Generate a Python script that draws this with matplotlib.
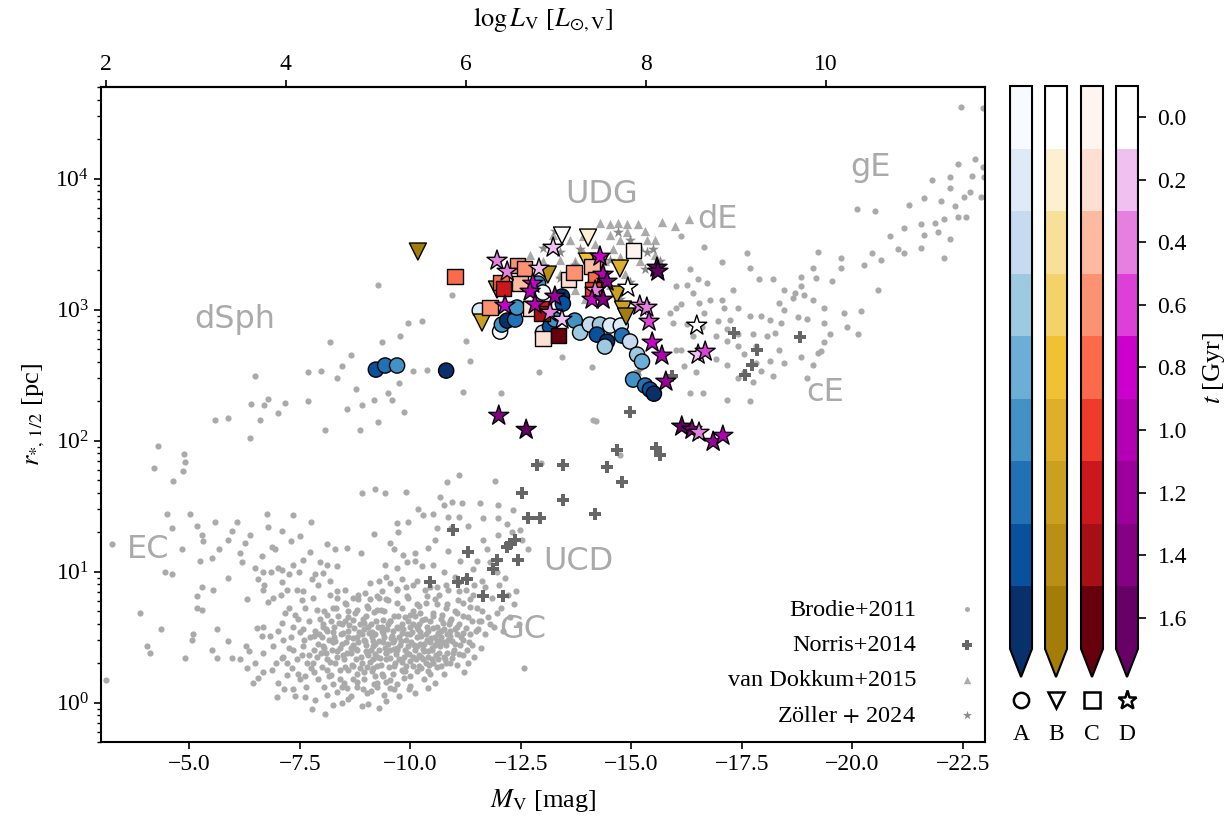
import numpy as np
import matplotlib
matplotlib.use("Agg")
import matplotlib.pyplot as plt
from matplotlib.colors import ListedColormap, BoundaryNorm
from matplotlib.cm import ScalarMappable
from matplotlib.lines import Line2D

# === DATA ===
# model A (circles): M_V, r_half [pc], t [Gyr]
circ_mv = [-9.22, -9.43, -9.70, -10.81, -11.57, -12.03, -12.07, -12.19, -12.37, -12.41,
           -12.89, -13.00, -13.43, -13.45, -13.00, -13.16, -13.27, -13.72, -13.84, -14.06,
           -14.29, -14.22, -14.45, -14.52, -14.76, -14.79, -14.97, -15.13, -15.24, -15.04,
           -15.31, -15.42, -15.51, -14.40]
circ_r = [348, 374, 374, 342, 983, 679, 768, 824, 839, 1036,
          1578, 1349, 1257, 1111, 667, 741, 839, 824, 667, 768,
          768, 644, 570, 755, 755, 633, 570, 453, 401, 292,
          263, 245, 228, 522]
circ_t = [1.4, 1.2, 1.0, 1.6, 0.2, 0.0, 1.0, 1.6, 1.2, 1.0,
          1.0, 0.0, 1.6, 1.4, 0.4, 1.4, 1.0, 1.0, 0.6, 0.4,
          0.6, 1.4, 1.6, 0.2, 0.2, 1.2, 0.4, 0.6, 0.8, 1.0,
          1.2, 1.4, 1.6, 0.6]

# model B (down triangles)
tri_mv = [-10.17, -11.62, -11.96, -13.11, -13.43, -14.02, -14.00, -14.74, -14.67, -14.81, -14.88, -14.29]
tri_r = [2773, 796, 1422, 1850, 3673, 3545, 2324, 2056, 1302, 1000, 885, 2285]
tri_t = [1.6, 1.2, 1.4, 1.4, 0.0, 0.2, 0.8, 1.0, 1.2, 1.2, 1.6, 1.0]

# model C (squares)
sq_mv = [-11.01, -12.05, -12.10, -11.80, -12.43, -12.59, -12.48, -12.73, -13.00, -12.98,
         -13.00, -13.36, -13.57, -13.70, -14.11, -14.18, -14.13, -15.04]
sq_r = [1786, 1607, 1446, 1036, 2168, 2056, 1578, 1018, 1018, 932,
        601, 633, 1694, 1916, 2130, 1694, 1422, 2820]
sq_t = [0.8, 0.8, 1.2, 0.6, 0.6, 0.6, 0.4, 0.2, 1.2, 1.4,
        0.2, 1.6, 0.2, 0.6, 0.4, 0.8, 1.0, 0.0]

# model D (stars)
star_mv = [-11.96, -12.19, -13.23, -12.91, -12.77, -12.71, -12.82, -12.14, -13.16, -13.43,
           -13.27, -14.29, -14.36, -14.45, -14.18, -14.11, -14.36, -14.92, -15.58, -15.60,
           -15.19, -15.35, -15.40, -15.47, -15.69, -15.78, -16.48, -16.51, -16.67, -12.00,
           -12.62, -16.14, -16.37, -16.53, -16.85, -17.07]
star_r = [2366, 1950, 2974, 2056, 1578, 1372, 1092, 1073, 948, 839,
          1257, 2540, 1850, 1636, 1396, 1192, 1192, 1472, 2093, 1950,
          1073, 1036, 810, 560, 446, 282, 755, 453, 478, 155,
          121, 128, 121, 115, 98, 109]
star_t = [0.4, 0.4, 0.2, 0.2, 0.8, 1.0, 1.0, 0.8, 0.4, 0.2,
          1.2, 0.8, 1.0, 1.4, 0.4, 0.8, 1.4, 0.0, 1.6, 1.6,
          0.4, 0.4, 0.6, 0.8, 1.0, 1.2, 0.0, 0.2, 0.6, 1.4,
          1.6, 1.6, 1.4, 0.4, 1.2, 1.0]

# Brodie+2011: (M_V, log10 r_half)
brodie_gc = [
    (-4.49, 1.44), (-5.02, 1.44), (-6.75, 1.44), (-7.34, 1.43), (-7.75, 1.38), (-5.58, 1.38),
    (-6.07, 1.38), (-4.60, 1.33), (-5.18, 1.35), (-5.97, 1.31), (-6.77, 1.34), (-7.09, 1.31),
    (-6.37, 1.28), (-5.28, 1.28), (-5.32, 1.23), (-5.88, 1.24), (-6.27, 1.22), (-7.30, 1.23),
    (-7.50, 1.27), (-8.11, 1.21), (-8.30, 1.17), (-8.57, 1.18), (-8.88, 1.14), (-9.18, 1.29),
    (-9.69, 1.37), (-9.95, 1.38), (-10.18, 1.48), (-10.29, 1.43), (-10.52, 1.44), (-10.75, 1.51),
    (-10.94, 1.53), (-11.16, 1.52), (-11.58, 1.52), (-11.99, 1.51), (-12.33, 1.47), (-10.86, 1.42),
    (-11.11, 1.42), (-11.31, 1.35), (-11.65, 1.41), (-11.99, 1.41), (-12.18, 1.36), (-12.48, 1.32),
    (-10.60, 1.33), (-10.91, 1.33), (-9.73, 1.30), (-9.54, 1.22), (-9.62, 1.17), (-9.84, 1.13),
    (-10.11, 1.14), (-10.41, 1.18), (-10.56, 1.24), (-10.86, 1.16), (-11.12, 1.08), (-11.65, 1.24),
    (-11.99, 1.28), (-12.29, 1.30), (-12.52, 1.24), (-12.67, 1.17), (-11.73, 1.17), (-11.50, 1.08),
    (-11.80, 1.07), (-11.42, 1.02), (-11.61, 0.93), (-11.01, 0.96), (-10.75, 1.00), (-10.52, 1.05),
    (-10.26, 1.04), (-10.11, 1.08), (-9.92, 1.07), (-9.69, 1.03), (-9.46, 0.96), (-9.28, 0.93),
    (-9.80, 0.94), (-10.14, 0.93), (-10.33, 0.86), (-10.60, 0.88), (-10.86, 0.86), (-11.09, 0.85),
    (-11.27, 0.86), (-11.35, 0.79), (-11.42, 0.82), (-11.20, 0.76), (-11.05, 0.68), (-10.82, 0.75),
    (-10.56, 0.79), (-10.37, 0.81), (-10.14, 0.75), (-9.92, 0.81), (-9.69, 0.76), (-9.46, 0.79),
    (-9.24, 0.71), (-9.01, 0.74), (-8.79, 0.71), (-8.52, 0.76), (-8.32, 0.72), (-8.11, 0.67),
    (-7.88, 0.71), (-7.62, 0.72), (-7.39, 0.67), (-7.17, 0.68), (-7.09, 0.61), (-7.35, 0.58),
    (-7.58, 0.56), (-7.81, 0.51), (-8.03, 0.58), (-8.26, 0.54), (-8.52, 0.62), (-8.71, 0.63),
    (-8.94, 0.61), (-9.13, 0.54), (-9.35, 0.58), (-9.54, 0.62), (-9.73, 0.66), (-9.99, 0.67),
    (-10.22, 0.68), (-10.52, 0.66), (-10.71, 0.67), (-10.90, 0.62), (-11.05, 0.58), (-11.20, 0.53),
    (-10.82, 0.52), (-10.60, 0.47), (-10.37, 0.48), (-10.22, 0.54), (-9.99, 0.58), (-9.80, 0.53),
    (-9.62, 0.48), (-9.39, 0.46), (-9.16, 0.43), (-8.94, 0.48), (-8.71, 0.49), (-8.48, 0.53),
    (-8.26, 0.46), (-8.03, 0.43), (-7.81, 0.40), (-7.58, 0.43), (-7.35, 0.40), (-7.13, 0.35),
    (-7.43, 0.33), (-7.66, 0.30), (-7.88, 0.35), (-8.11, 0.33), (-8.33, 0.35), (-8.56, 0.38),
    (-8.79, 0.40), (-9.01, 0.38), (-9.24, 0.35), (-9.46, 0.38), (-9.69, 0.40), (-9.92, 0.38),
    (-10.14, 0.43), (-10.41, 0.39), (-10.67, 0.46), (-10.90, 0.51), (-11.20, 0.48), (-11.35, 0.52),
    (-11.09, 0.37), (-11.54, 0.56), (-11.69, 0.52), (-12.56, 0.26), (-11.21, 0.23), (-10.41, 0.11),
    (-9.96, 0.10), (-9.54, 0.11), (-9.28, -0.04), (-8.90, -0.03), (-8.60, 0.03), (-8.11, 0.06),
    (-7.77, -0.05), (-8.07, -0.09), (-7.62, 0.04), (-7.35, 0.10), (-6.99, 0.04), (-7.01, 0.15),
    (-7.20, 0.21), (-7.50, 0.18), (-7.81, 0.23), (-8.11, 0.25), (-8.41, 0.18), (-8.71, 0.28),
    (-8.94, 0.23), (-9.16, 0.26), (-9.39, 0.20), (-9.62, 0.28), (-9.84, 0.24), (-10.07, 0.28),
    (-10.29, 0.33), (-10.52, 0.30), (-10.75, 0.35), (-10.97, 0.38), (-8.26, 0.14), (-8.56, 0.11),
    (-9.01, 0.07), (-9.24, 0.15), (-9.46, 0.16), (-8.79, 0.16), (-7.20, 0.30), (-7.32, 0.26),
    (-7.09, 0.34), (-6.86, 0.25), (-6.67, 0.23), (-6.45, 0.15), (-6.56, 0.19), (-6.30, 0.26),
    (-6.49, 0.30), (-6.67, 0.38), (-6.28, 0.43), (-6.34, 0.39), (-6.15, 0.33), (-5.96, 0.34),
    (-5.62, 0.34), (-5.51, 0.40), (-5.88, 0.47), (-5.62, 0.56), (-5.09, 0.52), (-5.05, 0.48),
    (-4.90, 0.34), (-4.37, 0.56), (-4.04, 0.43), (-4.11, 0.38), (-3.89, 0.68), (-3.24, 1.21),
    (-3.11, 0.17), (-4.83, 1.17), (-4.45, 1.00), (-4.60, 0.98), (-5.24, 1.08), (-5.51, 1.10),
    (-5.68, 1.17), (-5.88, 0.95), (-6.15, 1.14), (-6.18, 1.07), (-6.49, 1.03), (-6.65, 1.12),
    (-6.86, 1.19), (-6.94, 1.17), (-6.67, 1.00), (-6.84, 1.00), (-7.01, 1.03), (-7.09, 1.01),
    (-7.26, 0.98), (-7.35, 1.05), (-7.58, 1.09), (-7.73, 1.15), (-7.96, 1.07), (-8.11, 1.05),
    (-8.03, 0.99), (-8.33, 1.04), (-8.52, 0.86), (-8.82, 0.82), (-8.97, 0.84), (-9.09, 0.91),
    (-9.43, 1.05), (-9.54, 0.91), (-9.35, 0.85), (-9.24, 0.81), (-9.09, 0.79), (-9.69, 0.87),
    (-8.82, 0.79), (-8.60, 0.70), (-8.35, 0.80), (-8.18, 0.82), (-7.92, 0.90), (-7.77, 0.94),
    (-7.58, 0.85), (-7.43, 0.86), (-7.20, 0.86), (-7.07, 0.82), (-6.90, 0.80), (-6.79, 0.77),
    (-6.67, 0.86), (-6.70, 0.90), (-6.56, 0.94), (-6.30, 0.79), (-6.52, 0.57), (-6.67, 0.58),
    (-6.82, 0.51), (-6.64, 0.51), (-7.13, 0.48), (-6.90, 0.43), (-5.17, 0.81), (-5.28, 0.88),
    (-5.54, 0.86), (-5.17, 0.72), (-5.28, 0.71), (-7.09, 0.92), (-7.49, 1.00), (-7.84, 0.98),
    (-8.18, 0.93),
]
brodie_core = [
    (-8.00, 0.50), (-8.20, 0.62), (-8.40, 0.42), (-8.60, 0.55), (-8.80, 0.50), (-9.00, 0.44),
    (-9.10, 0.60), (-9.20, 0.52), (-9.30, 0.40), (-9.40, 0.50), (-9.50, 0.45), (-9.60, 0.55),
    (-9.70, 0.42), (-9.80, 0.60), (-9.90, 0.48), (-10.00, 0.52), (-10.10, 0.40), (-10.20, 0.60),
    (-10.30, 0.45), (-10.40, 0.55), (-10.50, 0.42), (-10.60, 0.58), (-10.70, 0.50), (-10.80, 0.44),
    (-8.10, 0.38), (-8.30, 0.47), (-8.50, 0.33), (-8.70, 0.44), (-8.90, 0.30), (-9.05, 0.36),
    (-9.15, 0.47), (-9.25, 0.28), (-9.35, 0.55), (-9.45, 0.33), (-9.55, 0.40), (-9.65, 0.30),
    (-9.75, 0.50), (-9.85, 0.35), (-9.95, 0.43), (-10.05, 0.60), (-10.15, 0.50), (-10.25, 0.35),
    (-10.35, 0.52), (-10.45, 0.62), (-10.55, 0.50), (-10.65, 0.38), (-10.75, 0.56), (-10.90, 0.55),
    (-11.00, 0.45), (-11.10, 0.60), (-7.90, 0.45), (-7.70, 0.36), (-8.00, 0.27), (-8.40, 0.25),
    (-8.80, 0.22), (-9.20, 0.20), (-9.60, 0.22), (-10.00, 0.20), (-10.40, 0.24), (-10.80, 0.30),
    (-8.60, 0.65), (-9.00, 0.66), (-9.40, 0.70), (-9.80, 0.72), (-10.20, 0.74), (-10.60, 0.75),
    (-11.00, 0.70), (-11.30, 0.65), (-11.50, 0.72), (-11.60, 0.62), (-8.25, 0.72), (-8.45, 0.60),
    (-8.65, 0.38), (-8.95, 0.56), (-9.15, 0.33), (-9.55, 0.62), (-9.90, 0.28), (-10.10, 0.66),
    (-10.35, 0.30), (-10.70, 0.64),
    (-7.70, 0.62), (-7.85, 0.55), (-7.95, 0.64), (-8.05, 0.70), (-8.15, 0.48), (-8.22, 0.40),
    (-8.28, 0.58), (-8.36, 0.66), (-8.42, 0.52), (-8.48, 0.36), (-8.55, 0.46), (-8.62, 0.59),
    (-8.68, 0.29), (-8.74, 0.68), (-8.78, 0.41), (-8.84, 0.54), (-8.88, 0.35), (-8.93, 0.64),
    (-8.97, 0.47), (-9.02, 0.27), (-9.07, 0.53), (-9.11, 0.40), (-9.18, 0.69), (-9.21, 0.45),
    (-9.27, 0.58), (-9.31, 0.34), (-9.37, 0.63), (-9.42, 0.42), (-9.47, 0.56), (-9.52, 0.27),
    (-9.57, 0.49), (-9.63, 0.66), (-9.67, 0.37), (-9.72, 0.57), (-9.77, 0.44), (-9.82, 0.31),
    (-9.87, 0.65), (-9.92, 0.52), (-9.97, 0.37), (-10.02, 0.46), (-10.07, 0.70), (-10.12, 0.33),
    (-10.17, 0.56), (-10.22, 0.45), (-10.27, 0.63), (-10.32, 0.39), (-10.37, 0.58), (-10.42, 0.29),
    (-10.47, 0.49), (-10.52, 0.68), (-10.57, 0.36), (-10.62, 0.53), (-10.68, 0.43), (-10.73, 0.61),
    (-10.78, 0.33), (-10.85, 0.48), (-10.92, 0.64), (-10.98, 0.40), (-11.05, 0.52), (-11.12, 0.44),
    (-11.18, 0.66), (-11.25, 0.57), (-11.32, 0.46), (-11.40, 0.62), (-11.48, 0.55), (-7.60, 0.48),
    (-7.75, 0.26), (-7.90, 0.18), (-8.05, 0.12), (-8.20, 0.21), (-8.35, 0.08), (-8.50, 0.15),
    (-8.65, 0.05), (-8.80, 0.12), (-8.95, 0.18), (-9.10, 0.09), (-9.25, 0.12), (-9.40, 0.06),
    (-9.55, 0.17), (-9.70, 0.14), (-9.85, 0.19), (-10.00, 0.13), (-10.15, 0.24), (-10.30, 0.18),
    (-10.45, 0.22), (-10.60, 0.27), (-10.75, 0.22), (-10.90, 0.30), (-11.05, 0.29), (-11.20, 0.36),
    (-7.55, 0.36), (-7.65, 0.12), (-7.85, 0.02), (-8.25, -0.02), (-8.45, 0.00), (-9.05, -0.01),
    (-9.45, 0.01), (-9.75, 0.05), (-10.10, 0.07), (-10.55, 0.15), (-8.10, 0.56), (-8.30, 0.30),
    (-8.58, 0.25), (-8.86, 0.60), (-9.14, 0.24), (-9.33, 0.71), (-9.61, 0.46), (-9.89, 0.24),
    (-10.19, 0.28), (-10.49, 0.40), (-10.81, 0.72), (-11.08, 0.78), (-11.36, 0.73), (-11.62, 0.70),
    (-11.80, 0.60), (-11.95, 0.68), (-12.10, 0.55), (-11.85, 0.80), (-11.70, 0.88), (-12.00, 0.90),
    (-12.20, 0.82), (-11.45, 0.90), (-11.25, 0.95), (-12.35, 0.75), (-9.05, 0.72), (-8.55, 0.75),
    (-8.35, 0.85), (-7.80, 0.80), (-7.55, 0.78), (-7.30, 0.50), (-7.25, 0.72), (-7.45, 0.64),
    (-9.50, 0.78), (-9.95, 0.80), (-10.35, 0.76), (-10.65, 0.82), (-10.45, 0.88), (-10.05, 0.90),
    (-9.70, 0.86),
    (-8.05, 0.42), (-8.12, 0.55), (-8.18, 0.31), (-8.27, 0.50), (-8.33, 0.39), (-8.39, 0.61),
    (-8.46, 0.45), (-8.53, 0.27), (-8.59, 0.50), (-8.66, 0.42), (-8.72, 0.57), (-8.76, 0.33),
    (-8.82, 0.46), (-8.86, 0.26), (-8.91, 0.52), (-8.99, 0.39), (-9.04, 0.58), (-9.08, 0.31),
    (-9.13, 0.50), (-9.19, 0.37), (-9.23, 0.62), (-9.29, 0.47), (-9.33, 0.29), (-9.39, 0.53),
    (-9.44, 0.38), (-9.49, 0.60), (-9.53, 0.34), (-9.59, 0.51), (-9.64, 0.41), (-9.69, 0.58),
    (-9.74, 0.33), (-9.79, 0.47), (-9.84, 0.56), (-9.88, 0.40), (-9.94, 0.62), (-9.99, 0.32),
    (-10.04, 0.54), (-10.09, 0.44), (-10.14, 0.58), (-10.19, 0.36), (-10.24, 0.51), (-10.29, 0.41),
    (-10.34, 0.64), (-10.39, 0.35), (-10.44, 0.46), (-10.51, 0.57), (-10.56, 0.44), (-10.63, 0.33),
    (-10.69, 0.55), (-10.76, 0.46), (-10.83, 0.38), (-10.88, 0.60), (-10.95, 0.47), (-11.02, 0.56),
    (-11.15, 0.50), (-11.28, 0.40), (-7.72, 0.50), (-7.80, 0.30), (-7.93, 0.52), (-7.98, 0.38),
    (-8.02, 0.60), (-8.15, 0.20), (-8.45, 0.12), (-8.70, 0.18), (-8.92, 0.10), (-9.18, 0.14),
    (-9.35, 0.22), (-9.62, 0.10), (-9.80, 0.25), (-10.05, 0.35), (-10.25, 0.26), (-10.50, 0.33),
    (-10.70, 0.28), (-10.95, 0.34), (-7.45, 0.22), (-7.62, 0.20), (-7.40, 0.05), (-7.15, 0.10),
    (-6.95, 0.30), (-7.00, 0.55), (-7.25, 0.42), (-7.50, 0.54), (-11.40, 0.44), (-11.55, 0.62),
    (-11.75, 0.65), (-11.90, 0.58), (-12.05, 0.72), (-12.25, 0.65), (-12.40, 0.85), (-12.15, 0.95),
    (-11.95, 1.00), (-12.45, 0.60), (-11.30, 0.30), (-11.45, 0.35), (-11.60, 0.42), (-8.70, 0.80),
    (-9.30, 0.80), (-9.90, 0.88), (-10.80, 0.90), (-11.10, 0.92),
]
brodie_dsph = [
    (-9.26, 3.19), (-10.95, 3.11), (-9.94, 2.90), (-10.26, 2.91), (-9.76, 2.80), (-9.36, 2.75),
    (-8.18, 2.75), (-11.27, 2.76), (-8.65, 2.65), (-8.46, 2.57), (-7.98, 2.53), (-7.69, 2.52),
    (-8.33, 2.48), (-10.06, 2.53), (-10.37, 2.54), (-6.49, 2.49), (-11.19, 2.37), (-11.36, 2.61),
    (-9.75, 2.44), (-8.76, 2.39), (-9.49, 2.36), (-9.17, 2.31), (-8.91, 2.27), (-8.56, 2.24),
    (-7.17, 2.29), (-6.78, 2.32), (-6.40, 2.28), (-6.68, 2.27), (-7.69, 2.30), (-7.00, 2.21),
    (-6.59, 2.16), (-5.88, 2.17), (-5.59, 2.16), (-8.07, 2.08), (-8.87, 2.08), (-9.26, 2.14),
    (-9.85, 2.22), (-9.58, 2.31), (-12.06, 2.36), (-12.91, 2.52), (-13.43, 2.64), (-14.10, 2.56),
    (-14.19, 2.15), (-12.95, 1.83), (-11.92, 1.69), (-11.10, 1.74), (-10.82, 1.68), (-6.38, 2.02),
    (-4.29, 1.96), (-4.89, 1.90), (-4.90, 1.84), (-4.20, 1.79), (-4.85, 1.77), (-4.63, 1.69),
    (-8.91, 1.60), (-9.19, 1.63), (-9.43, 1.60), (-9.91, 1.61), (-10.67, 1.57), (-14.13, 2.16),
    (-14.74, 1.89),
]
brodie_giant = [
    (-22.46, 4.55), (-22.95, 4.54), (-22.39, 4.11), (-22.77, 4.15), (-22.95, 4.09), (-21.81, 3.99),
    (-22.20, 4.01), (-22.71, 4.02), (-22.97, 4.01), (-21.29, 3.80), (-21.62, 3.85), (-22.00, 3.83),
    (-22.33, 3.79), (-22.52, 3.86), (-22.65, 3.90), (-22.90, 3.86), (-22.20, 3.93), (-22.58, 3.71),
    (-22.39, 3.71), (-20.52, 3.75), (-20.84, 3.56), (-21.16, 3.62), (-21.55, 3.65), (-21.87, 3.66),
    (-22.07, 3.69), (-21.61, 3.57), (-21.94, 3.59), (-22.20, 3.54), (-22.07, 3.39), (-21.55, 3.47),
    (-21.16, 3.43), (-21.04, 3.46), (-20.65, 3.38), (-20.45, 3.43), (-20.26, 3.34), (-19.75, 3.39),
    (-19.23, 3.44), (-19.10, 3.32), (-19.75, 3.32), (-19.55, 3.22), (-19.17, 3.24), (-18.84, 3.25),
    (-18.84, 3.18), (-18.46, 3.15), (-18.20, 3.23), (-17.88, 3.23), (-17.68, 3.32), (-18.71, 3.13),
    (-18.33, 3.05), (-18.91, 3.11), (-19.10, 3.07), (-19.36, 3.01), (-18.65, 3.09), (-18.46, 3.00),
    (-18.39, 2.90), (-18.78, 2.94), (-18.97, 2.93), (-19.36, 2.90), (-19.81, 2.97), (-20.20, 2.99),
    (-19.88, 2.87), (-20.58, 3.15), (-20.13, 2.81), (-19.49, 2.81), (-19.36, 2.75), (-19.23, 2.67),
    (-18.84, 2.64), (-19.10, 2.58), (-18.46, 2.59), (-18.13, 2.61), (-18.33, 2.69), (-18.07, 2.80),
    (-17.75, 2.81), (-17.42, 2.81), (-17.17, 2.85), (-16.97, 2.91), (-16.59, 2.87), (-16.26, 2.89),
    (-17.10, 3.01), (-16.78, 3.07), (-16.52, 3.05), (-16.13, 3.04), (-16.39, 3.13), (-16.26, 3.19),
    (-16.00, 3.18), (-16.50, 3.23), (-16.71, 3.20), (-17.29, 3.15), (-17.04, 3.07), (-17.42, 3.01),
    (-17.68, 2.95), (-17.94, 2.95), (-18.13, 2.92), (-17.23, 2.92), (-16.65, 2.97), (-16.00, 3.01),
    (-15.88, 2.97), (-15.94, 2.90), (-16.39, 2.80), (-16.91, 2.80), (-17.17, 2.76), (-17.42, 2.72),
    (-17.55, 2.66), (-17.81, 2.59), (-17.94, 2.53), (-18.20, 2.49), (-16.65, 2.69), (-16.91, 2.62),
    (-17.17, 2.58), (-17.55, 2.52), (-17.75, 2.45), (-17.17, 2.31), (-17.68, 2.30), (-16.62, 2.36),
    (-16.46, 2.52), (-16.20, 2.57), (-16.13, 2.69), (-16.00, 2.69), (-17.42, 2.48), (-16.65, 3.48),
    (-17.62, 3.43), (-17.04, 3.36), (-16.33, 3.31), (-16.13, 3.56), (-18.97, 2.48), (-19.29, 2.68),
    (-18.26, 2.82), (-17.81, 2.72), (-16.33, 2.36), (-20.10, 3.77),
]

# Norris+2014
norris_mv = [-10.44, -10.96, -11.08, -11.28, -11.30, -11.64, -12.10, -11.87, -11.96, -12.19,
             -12.25, -12.37, -12.43, -12.52, -12.66, -12.93, -13.45, -12.86, -13.45, -14.45,
             -14.67, -14.79, -14.97, -15.56, -15.65, -15.92, -17.32, -17.57, -17.73, -17.84,
             -18.81, -14.18]
norris_logr = [0.92, 1.32, 0.92, 0.94, 1.15, 0.81, 0.81, 1.02, 1.09, 1.19,
               1.21, 1.24, 1.09, 1.60, 1.41, 1.41, 1.55, 1.81, 1.81, 1.80,
               1.93, 1.68, 2.22, 1.94, 1.89, 2.49, 2.82, 2.50, 2.58, 2.69,
               2.79, 1.44]

# van Dokkum+2015
vdk_mv = [-14.29, -14.52, -14.70, -14.90, -15.15, -15.69, -15.99, -16.30, -13.61, -13.90,
          -14.52, -14.90, -15.31, -14.74, -15.35, -13.90, -14.29, -14.58, -15.04, -13.00,
          -13.38, -13.72, -14.06, -14.40, -14.74, -15.19, -13.38, -13.72, -14.06, -14.52,
          -14.86, -13.11, -13.50, -13.95, -14.29, -14.63, -12.48, -12.71, -13.23, -14.18,
          -15.19, -15.53, -15.53]
vdk_logr = [3.66, 3.65, 3.66, 3.65, 3.65, 3.67, 3.64, 3.69, 3.53, 3.56,
            3.57, 3.59, 3.60, 3.53, 3.53, 3.44, 3.44, 3.46, 3.44, 3.37,
            3.38, 3.37, 3.40, 3.37, 3.40, 3.37, 3.27, 3.15, 3.23, 3.19,
            3.27, 3.15, 3.08, 3.08, 3.11, 3.15, 3.31, 3.42, 3.57, 3.50,
            3.48, 3.42, 3.53]

# Zoller+2024
zol_mv = [-13.00, -13.38, -14.70, -14.97, -15.35, -15.49, -14.29, -14.52, -13.72, -14.06,
          -12.93, -14.74, -14.97, -15.15, -13.38, -13.84, -15.31, -15.65, -14.40, -13.27]
zol_logr = [3.47, 3.44, 3.59, 3.53, 3.44, 3.46, 3.31, 3.38, 3.34, 3.14,
            3.08, 3.08, 3.21, 2.53, 3.24, 3.46, 3.31, 3.37, 3.08, 3.60]

t_bounds = [-0.1, 0.1, 0.3, 0.5, 0.7, 0.9, 1.1, 1.3, 1.5, 1.7]
t_ticks = [0.0, 0.2, 0.4, 0.6, 0.8, 1.0, 1.2, 1.4, 1.6]

cols_a = ['#f7fbff', '#deebf7', '#c6dbef', '#9ecae1', '#6baed6', '#4292c6', '#2171b5', '#08519c', '#08306b']
cols_b = ['#ffffff', '#fdf0d0', '#f8e09a', '#f3d26a', '#f0c035', '#dfae2a', '#cba021', '#b98f16', '#a47d08']
cols_c = ['#fff5f0', '#fee0d2', '#fcbba1', '#fc9272', '#fb6a4a', '#ef3b2c', '#cb181d', '#a50f15', '#67000d']
cols_d = ['#ffffff', '#f0c0f0', '#e680e0', '#dc40d8', '#cc00cc', '#b400b4', '#9c009c', '#840084', '#660066']

region_labels = [("dSph", -6.03, 835), ("UDG", -14.33, 7540), ("dE", -16.96, 4880),
                 ("gE", -20.40, 12100), ("cE", -19.38, 232), ("EC", -4.06, 14.7),
                 ("UCD", -13.79, 11.9), ("GC", -12.55, 3.6)]

# === STYLE ===
plt.rcParams['font.family'] = 'serif'
plt.rcParams['font.serif'] = ['Liberation Serif', 'DejaVu Serif']
plt.rcParams['mathtext.fontset'] = 'stix'
plt.rcParams['axes.linewidth'] = 1.5
plt.rcParams['xtick.major.width'] = 1.2
plt.rcParams['ytick.major.width'] = 1.2
plt.rcParams['ytick.minor.width'] = 1.0

GREY = '#aaaaaa'

fig = plt.figure(figsize=(12.28, 8.16), dpi=100)
ax = fig.add_axes([0.0822, 0.0907, 0.7199, 0.8027])

brodie = np.array(brodie_gc + brodie_core + brodie_dsph + brodie_giant)
ax.scatter(brodie[:, 0], 10 ** brodie[:, 1], s=20, color=GREY, lw=0, zorder=1, label='Brodie+2011')
ax.scatter(norris_mv, 10 ** np.array(norris_logr), s=75, marker='P', color='#666666', lw=0,
           zorder=2, label='Norris+2014')
ax.scatter(vdk_mv, 10 ** np.array(vdk_logr), s=45, marker='^', color=GREY, lw=0,
           zorder=2, label='van Dokkum+2015')
ax.scatter(zol_mv, 10 ** np.array(zol_logr), s=70, marker='*', color='#888888', lw=0,
           zorder=2, label=r'Zöller$\,+\,$2024')

models = [
    (circ_mv, circ_r, circ_t, 'o', cols_a, 120),
    (tri_mv, tri_r, tri_t, 'v', cols_b, 150),
    (sq_mv, sq_r, sq_t, 's', cols_c, 120),
    (star_mv, star_r, star_t, '*', cols_d, 230),
]
for i, (mv, r, t, mk, cols, sz) in enumerate(models):
    cmap = ListedColormap(cols)
    norm = BoundaryNorm(t_bounds, cmap.N)
    ax.scatter(mv, r, c=t, cmap=cmap, norm=norm, marker=mk, s=sz,
               edgecolors='black', linewidths=1.0, zorder=3 + i)

for txt, x, y in region_labels:
    ax.text(x, y, txt, family='DejaVu Sans', color=GREY, fontsize=23,
            ha='center', va='center', zorder=0)

ax.set_xlim(-3, -23)
ax.set_ylim(0.5, 5e4)
ax.set_yscale('log')
ax.set_xticks([-5, -7.5, -10, -12.5, -15, -17.5, -20, -22.5])
ax.set_xticklabels(['−5.0', '−7.5', '−10.0', '−12.5', '−15.0', '−17.5', '−20.0', '−22.5'])
ax.tick_params(labelsize=17, length=5)
ax.tick_params(which='minor', length=3)
ax.set_xlabel(r'$M_\mathrm{V}$ [mag]', fontsize=19, labelpad=9)
ax.set_ylabel(r'$r_{*,\,1/2}$ [pc]', fontsize=19, labelpad=6)


def mag_to_logl(m):
    return 2 + (-3.11 - m) / 2.036


def logl_to_mag(l):
    return -3.11 - (l - 2) * 2.036


top = ax.secondary_xaxis('top', functions=(mag_to_logl, logl_to_mag))
top.set_xticks([2, 4, 6, 8, 10])
top.tick_params(labelsize=17, length=5)
top.set_xlabel(r'$\log L_\mathrm{V}$ [$L_{\odot,\mathrm{V}}$]', fontsize=19, labelpad=20)

ax.legend(loc='lower right', bbox_to_anchor=(1.002, 0.012), frameon=False, markerfirst=False,
          fontsize=17.5, handletextpad=1.6, labelspacing=0.55, borderaxespad=0.0, borderpad=0.3,
          scatterpoints=1, handlelength=1.0, markerscale=0.8)

# === COLORBARS ===
# drawn on -t so that t increases downward with the extension at the bottom
neg_bounds = [-b for b in t_bounds[::-1]]
cb_left = [0.8225, 0.8510, 0.8803, 0.9088]
cb_w = 0.0179
marker_shapes = ['o', 'v', 's', '*']
letters = ['A', 'B', 'C', 'D']
for i, cols in enumerate([cols_a, cols_b, cols_c, cols_d]):
    cmap_cb = ListedColormap(cols[::-1])
    cmap_cb.set_under(cols[-1])
    norm_cb = BoundaryNorm(neg_bounds, cmap_cb.N)
    cax = fig.add_axes([cb_left[i], 0.1703, cb_w, 0.7243])
    cb = fig.colorbar(ScalarMappable(norm=norm_cb, cmap=cmap_cb), cax=cax, extend='min',
                      extendfrac=0.05, spacing='proportional')
    cb.outline.set_linewidth(1.5)
    if i < 3:
        cb.set_ticks([])
    else:
        cb.set_ticks([-v for v in t_ticks])
        cb.set_ticklabels([f'{v:.1f}' for v in t_ticks])
        cax.tick_params(labelsize=17, length=6, width=1.2, pad=8)
        cb.set_label(r'$t$ [Gyr]', fontsize=19, labelpad=10)
    cb.minorticks_off()
    xc = cb_left[i] + cb_w / 2
    msz = 14 if marker_shapes[i] == '*' else 11
    fig.add_artist(Line2D([xc], [1 - 700 / 816], marker=marker_shapes[i], markersize=msz,
                          markerfacecolor='white', markeredgecolor='black',
                          markeredgewidth=1.8, transform=fig.transFigure))
    fig.text(xc, 1 - 735 / 816, letters[i], ha='center', va='center', fontsize=17)

fig.savefig('out.png', dpi=100)
